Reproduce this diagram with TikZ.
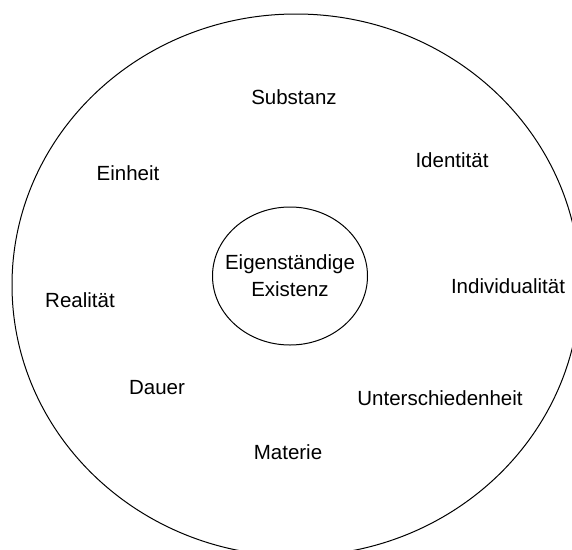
\documentclass[tikz,border=0pt]{standalone}
\usepackage{fontspec}
\setmainfont{Liberation Sans}
\usetikzlibrary{shapes.geometric}
\begin{document}
\begin{tikzpicture}[x=1pt,y=-1pt,
  lbl/.style={anchor=base,inner sep=0pt,font=\fontsize{20.5}{26}\selectfont},
  ring/.style={draw=black,line width=1pt}]
\useasboundingbox (0,0) rectangle (572,549);
\clip (0,0) rectangle (572,549);
\draw[ring] (296,285) ellipse [x radius=284, y radius=271];
\node[ring,ellipse,minimum width=155pt,minimum height=138pt,inner sep=0pt] (core) at (290,276) {};
\node[lbl] (eig) at (290,269) {Eigenständige};
\node[lbl] (exi) at (290,296) {Existenz};
\node[lbl] (sub) at (294,104) {Substanz};
\node[lbl] (ein) at (128,180) {Einheit};
\node[lbl] (ide) at (452,167) {Identität};
\node[lbl] (ind) at (508,293) {Individualität};
\node[lbl] (rea) at (80,307) {Realität};
\node[lbl] (dau) at (157,394) {Dauer};
\node[lbl] (unt) at (440,405) {Unterschiedenheit};
\node[lbl] (mat) at (288,459) {Materie};
\end{tikzpicture}
\end{document}
